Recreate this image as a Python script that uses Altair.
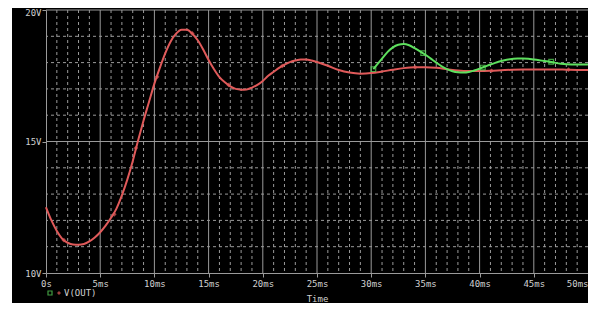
import altair as alt
import pandas as pd

# V(OUT) traces (time in ms, volts)
red_t = [0, 0.5, 1, 1.5, 2, 2.5, 3, 3.5, 4, 4.5, 5, 5.5, 6, 6.5, 7, 7.5, 8, 8.5, 9, 9.5,
         10, 10.5, 11, 11.5, 12, 12.5, 13, 13.5, 14, 14.5, 15, 15.5, 16, 16.5, 17, 17.5,
         18, 18.5, 19, 19.5, 20, 20.5, 21, 21.5, 22, 22.5, 23, 23.5, 24, 24.5, 25, 26,
         27, 28, 29, 30, 31, 32, 33, 34, 35, 36, 37, 38, 39, 40, 41, 42, 43, 44, 45, 46,
         47, 48, 49, 50]
red_v = [12.5, 12.0, 11.6, 11.3, 11.15, 11.08, 11.07, 11.1, 11.2, 11.35, 11.55, 11.8,
         12.1, 12.45, 12.95, 13.55, 14.25, 15.05, 15.8, 16.5, 17.2, 17.8, 18.35, 18.8,
         19.1, 19.25, 19.25, 19.1, 18.85, 18.5, 18.1, 17.75, 17.45, 17.25, 17.1, 17.0,
         16.97, 16.98, 17.05, 17.15, 17.3, 17.5, 17.65, 17.8, 17.92, 18.02, 18.08, 18.12,
         18.12, 18.08, 18.02, 17.88, 17.72, 17.62, 17.58, 17.6, 17.66, 17.73, 17.79,
         17.82, 17.82, 17.8, 17.75, 17.7, 17.68, 17.68, 17.69, 17.71, 17.73, 17.74,
         17.74, 17.74, 17.74, 17.73, 17.72, 17.72]
green_t = [30.2, 30.5, 31, 31.5, 32, 32.5, 33, 33.5, 34, 34.5, 35, 35.5, 36, 36.5, 37,
           37.5, 38, 38.5, 39, 39.5, 40, 40.5, 41, 41.5, 42, 42.5, 43, 43.5, 44, 44.5,
           45, 45.5, 46, 46.5, 47, 47.5, 48, 49, 50]
green_v = [17.75, 17.9, 18.15, 18.4, 18.58, 18.68, 18.71, 18.66, 18.55, 18.43, 18.3,
           18.15, 18.0, 17.86, 17.75, 17.67, 17.63, 17.62, 17.64, 17.7, 17.77, 17.85,
           17.93, 18.0, 18.06, 18.11, 18.14, 18.16, 18.16, 18.15, 18.12, 18.09, 18.06,
           18.03, 17.99, 17.96, 17.94, 17.93, 17.93]

red_mark_t = [1.65, 6.3, 8.29, 10.25, 13.5, 16.85, 21.8, 34.06, 41.1, 48.2]
red_mark_v = [11.25, 12.23, 14.75, 17.46, 19.11, 17.15, 17.87, 17.82, 17.69, 17.73]
green_mark_t = [30.2, 34.8, 40.3, 46.6]
green_mark_v = [17.75, 18.36, 17.81, 18.03]

x_ticks = [0, 5, 10, 15, 20, 25, 30, 35, 40, 45, 50]
y_ticks = [10, 15, 20]
x_minor = [t for t in range(1, 50) if t % 5 != 0]
x_major = [5, 10, 15, 20, 25, 30, 35, 40, 45]
y_minor = [11, 12, 13, 14, 16, 17, 18, 19]
y_major = [15, 20]

RED = "#e05a5a"
GREEN = "#5ee05e"
GRID = "#9a9a9a"
TXT = "#d0d0d0"
FONT = "DejaVu Sans Mono"

xs = alt.Scale(domain=[0, 50], nice=False)
ys = alt.Scale(domain=[10, 20], nice=False)

red_df = pd.DataFrame({"t": red_t, "v": red_v})
green_df = pd.DataFrame({"t": green_t, "v": green_v})
rm_df = pd.DataFrame({"t": red_mark_t, "v": red_mark_v})
gm_df = pd.DataFrame({"t": green_mark_t, "v": green_mark_v})

xaxis = alt.Axis(values=x_ticks, labelExpr="datum.value == 0 ? '0s' : datum.value + 'ms'",
                 title="Time", grid=False, tickSize=4, labelPadding=2, titlePadding=6,
                 labelFlush=False, labelOverlap=False,
                 labelAlign={"condition": {"test": "datum.value == 50", "value": "right"},
                             "value": "center"})
yaxis = alt.Axis(values=y_ticks, labelExpr="datum.value + 'V'", title=None, grid=False,
                 tickSize=4, labelPadding=1,
                 labelOffset={"condition": {"test": "datum.value == 20", "value": 2}, "value": 0})

strip = alt.Chart(pd.DataFrame({"a": [0]})).mark_rect(color="white").encode(
    x=alt.value(-38), x2=alt.value(-34), y=alt.value(-2), y2=alt.value(301))

vminor = alt.Chart(pd.DataFrame({"t": x_minor})).mark_rule(
    color=GRID, strokeDash=[3, 3], strokeWidth=1).encode(x=alt.X("t:Q", scale=xs, axis=xaxis))
vmajor = alt.Chart(pd.DataFrame({"t": x_major})).mark_rule(
    color=GRID, strokeWidth=1).encode(x=alt.X("t:Q", scale=xs))
hminor = alt.Chart(pd.DataFrame({"v": y_minor})).mark_rule(
    color=GRID, strokeDash=[3, 3], strokeWidth=1).encode(y=alt.Y("v:Q", scale=ys, axis=yaxis))
hmajor = alt.Chart(pd.DataFrame({"v": y_major})).mark_rule(
    color=GRID, strokeWidth=1).encode(y=alt.Y("v:Q", scale=ys))

red_line = alt.Chart(red_df).mark_line(color=RED, strokeWidth=2, interpolate="monotone").encode(
    x=alt.X("t:Q", scale=xs), y=alt.Y("v:Q", scale=ys))
green_line = alt.Chart(green_df).mark_line(color=GREEN, strokeWidth=2, interpolate="monotone").encode(
    x=alt.X("t:Q", scale=xs), y=alt.Y("v:Q", scale=ys))
red_pts = alt.Chart(rm_df).mark_point(shape="diamond", color=RED, filled=True, size=22).encode(
    x=alt.X("t:Q", scale=xs), y=alt.Y("v:Q", scale=ys))
green_pts = alt.Chart(gm_df).mark_point(shape="square", color=GREEN, filled=False, size=22,
                                         strokeWidth=1.2).encode(
    x=alt.X("t:Q", scale=xs), y=alt.Y("v:Q", scale=ys))

leg = pd.DataFrame({"a": [0]})
leg_sq = alt.Chart(leg).mark_point(shape="square", color=GREEN, filled=False, size=16,
                                   strokeWidth=1.2).encode(x=alt.value(4), y=alt.value(283))
leg_di = alt.Chart(leg).mark_point(shape="diamond", color=RED, filled=True, size=16).encode(
    x=alt.value(13), y=alt.value(283))
leg_tx = alt.Chart(leg).mark_text(text="V(OUT)", color=TXT, font=FONT, fontSize=9,
                                  align="left", baseline="middle").encode(
    x=alt.value(18), y=alt.value(283))

chart = alt.layer(strip, vminor, vmajor, hminor, hmajor, red_line, green_line, red_pts,
                  green_pts, leg_sq, leg_di, leg_tx).properties(
    width=542, height=263,
    autosize=alt.AutoSizeParams(type="none"),
    padding={"left": 38, "top": 2, "right": 0, "bottom": 30},
    background="black",
).configure_view(stroke=None, fill="black").configure_axis(
    domainColor=GRID, tickColor=GRID, labelColor=TXT, titleColor=TXT,
    labelFont=FONT, titleFont=FONT, labelFontSize=9, titleFontSize=9,
    titleFontWeight="normal", domainWidth=1,
)

chart.save("out.html", embed_options={"renderer": "svg", "actions": False})
